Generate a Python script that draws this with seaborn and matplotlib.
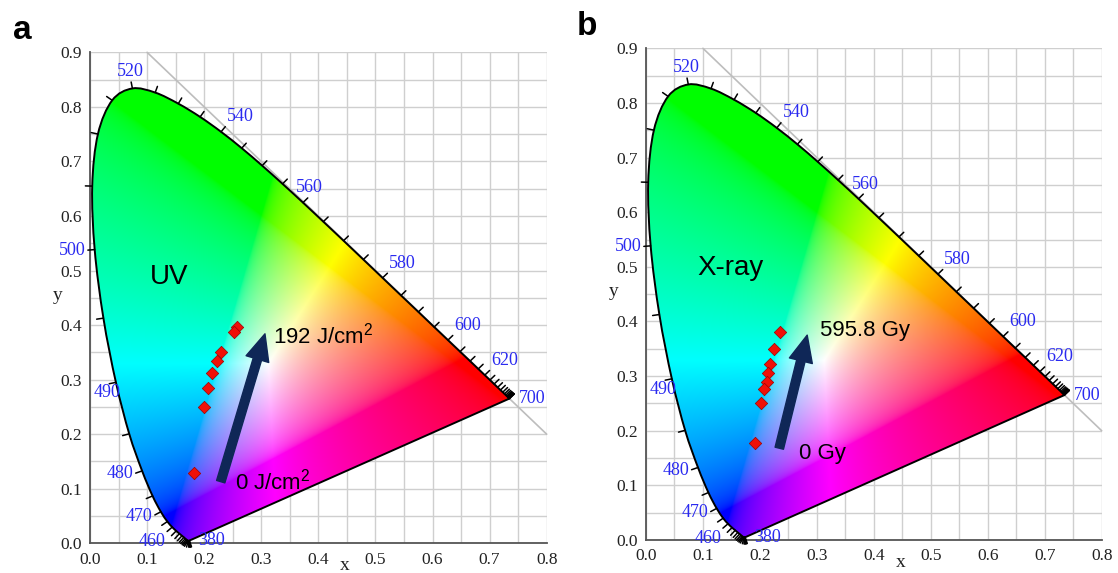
import matplotlib
matplotlib.use("Agg")
import matplotlib.pyplot as plt
from matplotlib.patches import PathPatch
from matplotlib.path import Path
import numpy as np
import pandas as pd
import seaborn as sns

# CIE 1931 2-degree spectral locus, 380-700 nm every 5 nm
wavelengths = list(range(380, 705, 5))
locus_x = [0.1741, 0.1740, 0.1738, 0.1736, 0.1733, 0.1730, 0.1726, 0.1721, 0.1714, 0.1703,
           0.1689, 0.1669, 0.1644, 0.1611, 0.1566, 0.1510, 0.1440, 0.1355, 0.1241, 0.1096,
           0.0913, 0.0687, 0.0454, 0.0235, 0.0082, 0.0039, 0.0139, 0.0389, 0.0743, 0.1142,
           0.1547, 0.1929, 0.2296, 0.2658, 0.3016, 0.3373, 0.3731, 0.4087, 0.4441, 0.4788,
           0.5125, 0.5448, 0.5752, 0.6029, 0.6270, 0.6482, 0.6658, 0.6801, 0.6915, 0.7006,
           0.7079, 0.7140, 0.7190, 0.7230, 0.7260, 0.7283, 0.7300, 0.7311, 0.7320, 0.7327,
           0.7334, 0.7340, 0.7344, 0.7346, 0.7347]
locus_y = [0.0050, 0.0050, 0.0049, 0.0049, 0.0048, 0.0048, 0.0048, 0.0048, 0.0051, 0.0058,
           0.0069, 0.0086, 0.0109, 0.0138, 0.0177, 0.0227, 0.0297, 0.0399, 0.0578, 0.0868,
           0.1327, 0.2007, 0.2950, 0.4127, 0.5384, 0.6548, 0.7502, 0.8120, 0.8338, 0.8262,
           0.8059, 0.7816, 0.7543, 0.7243, 0.6923, 0.6589, 0.6245, 0.5896, 0.5547, 0.5202,
           0.4866, 0.4544, 0.4242, 0.3965, 0.3725, 0.3514, 0.3340, 0.3197, 0.3083, 0.2993,
           0.2920, 0.2859, 0.2809, 0.2770, 0.2740, 0.2717, 0.2700, 0.2689, 0.2680, 0.2673,
           0.2666, 0.2660, 0.2656, 0.2654, 0.2653]
labelled_wl = [380, 460, 470, 480, 490, 500, 520, 540, 560, 580, 600, 620, 700]

# panel a: UV dose series
uv_x = [0.258, 0.253, 0.229, 0.222, 0.214, 0.207, 0.200, 0.182]
uv_y = [0.397, 0.387, 0.351, 0.335, 0.313, 0.285, 0.249, 0.129]
uv_arrow = [(0.229, 0.113), (0.3065, 0.384)]
uv_texts = ["UV", "0 J/cm$^{2}$", "192 J/cm$^{2}$"]
uv_text_xy = [(0.105, 0.489), (0.254, 0.113), (0.321, 0.380)]

# panel b: X-ray dose series
xr_x = [0.235, 0.225, 0.217, 0.215, 0.212, 0.207, 0.202, 0.191]
xr_y = [0.381, 0.349, 0.323, 0.305, 0.290, 0.276, 0.250, 0.177]
xr_arrow = [(0.234, 0.168), (0.283, 0.375)]
xr_texts = ["X-ray", "0 Gy", "595.8 Gy"]
xr_text_xy = [(0.0895, 0.497), (0.268, 0.159), (0.305, 0.384)]

SERIF = "Liberation Serif"
SANS = "Liberation Sans"
NAVY = "#0f2757"
WL_BLUE = "#2a2af0"


def chromaticity_image(nx=800, ny=900):
    xs = np.linspace(0, 0.8, nx)
    ys = np.linspace(0, 0.9, ny)
    xx, yy = np.meshgrid(xs, ys)
    yy = np.maximum(yy, 1e-4)
    xyz = np.stack([xx / yy, np.ones_like(xx), (1 - xx - yy) / yy], axis=-1)
    m = np.array([[3.2406, -1.5372, -0.4986],
                  [-0.9689, 1.8758, 0.0415],
                  [0.0557, -0.2040, 1.0570]])
    rgb = np.clip(xyz @ m.T, 0, None)
    rgb = rgb / np.maximum(rgb.max(axis=-1, keepdims=True), 1e-9)
    rgb = np.where(rgb <= 0.0031308, 12.92 * rgb, 1.055 * rgb ** (1 / 2.4) - 0.055)
    return np.clip(rgb, 0, 1)


def locus_path(lx, ly):
    # smooth curve through the locus points (Catmull-Rom as cubic Bezier), closed by the purple line
    pts = np.column_stack([lx, ly])
    ext = np.vstack([pts[0], pts, pts[-1]])
    verts = [pts[0]]
    codes = [Path.MOVETO]
    for i in range(len(pts) - 1):
        p0, p1, p2, p3 = ext[i], ext[i + 1], ext[i + 2], ext[i + 3]
        verts += [p1 + (p2 - p0) / 6, p2 - (p3 - p1) / 6, p2]
        codes += [Path.CURVE4] * 3
    verts += [pts[0], pts[0]]
    codes += [Path.LINETO, Path.CLOSEPOLY]
    return Path(np.array(verts), codes)


def draw_panel(ax, px, py, arrow, texts, text_xy, img):
    lx = np.array(locus_x)
    ly = np.array(locus_y)
    path = locus_path(lx, ly)

    clip = PathPatch(path, transform=ax.transData, facecolor="none", edgecolor="none")
    ax.add_patch(clip)
    im = ax.imshow(img, origin="lower", extent=(0, 0.8, 0, 0.9), aspect="auto",
                   interpolation="bilinear", zorder=2)
    im.set_clip_path(clip)
    ax.add_patch(PathPatch(path, facecolor="none", edgecolor="black", lw=1.4, zorder=3,
                           joinstyle="round"))

    # reference line x + y = 1
    ax.plot([0.1, 0.8], [0.9, 0.2], color="#bdbdbd", lw=1.2, zorder=1, clip_on=False)

    # wavelength ticks on the locus
    gx = np.gradient(lx)
    gy = np.gradient(ly)
    norm = np.hypot(gx, gy)
    nx_, ny_ = -gy / norm, gx / norm
    for i, wl in enumerate(wavelengths):
        ax.plot([lx[i], lx[i] + 0.012 * nx_[i]], [ly[i], ly[i] + 0.012 * ny_[i]],
                color="black", lw=1.1, zorder=3, clip_on=False)
        if wl not in labelled_wl:
            continue
        n0, n1 = nx_[i], ny_[i]
        if wl in (380, 700):
            n0, n1 = 1.0, 0.0
        ha = "left" if n0 > 0.5 else ("right" if n0 < -0.5 else "center")
        va = "bottom" if n1 > 0.5 else ("top" if n1 < -0.5 else "center")
        if wl == 490:
            ha, va = "center", "top"
        if wl == 560:
            ha, va = "center", "bottom"
        ax.text(lx[i] + 0.016 * n0, ly[i] + 0.016 * n1, str(wl), ha=ha, va=va,
                color=WL_BLUE, fontsize=13, family=SERIF, zorder=4)

    data = pd.DataFrame({"x": px, "y": py})
    sns.scatterplot(data=data, x="x", y="y", marker="D", s=40, color="#f01008",
                    edgecolor="#a00000", linewidth=0.5, ax=ax, zorder=5, legend=False)

    ax.annotate("", xy=arrow[1], xytext=arrow[0],
                arrowprops=dict(arrowstyle="simple,head_width=1.7,head_length=1.9,tail_width=0.62",
                                mutation_scale=10, color=NAVY, shrinkA=0, shrinkB=0), zorder=6)

    ax.text(*text_xy[0], texts[0], fontsize=20, family=SANS, color="black",
            ha="left", va="center", zorder=6)
    ax.text(*text_xy[1], texts[1], fontsize=16, family=SANS, color="black",
            ha="left", va="center", zorder=6)
    ax.text(*text_xy[2], texts[2], fontsize=16, family=SANS, color="black",
            ha="left", va="center", zorder=6)

    ax.set_xlim(0, 0.8)
    ax.set_ylim(0, 0.9)
    ax.set_xticks(np.arange(0, 0.81, 0.1))
    ax.set_yticks(np.arange(0, 0.91, 0.1))
    ax.set_xticks(np.arange(0, 0.81, 0.05), minor=True)
    ax.set_yticks(np.arange(0, 0.91, 0.05), minor=True)
    ax.set_xticklabels([f"{v:.1f}" for v in np.arange(0, 0.81, 0.1)])
    ax.set_yticklabels([f"{v:.1f}" for v in np.arange(0, 0.91, 0.1)])
    ax.grid(True, which="both", color="#cfcfcf", lw=1.0, zorder=0)
    ax.set_axisbelow(True)
    ax.tick_params(which="major", direction="out", length=4, width=1.0, color="#444444",
                   labelsize=12.5, labelcolor="#222222", pad=2)
    ax.tick_params(which="minor", length=0)
    for lab in ax.get_xticklabels() + ax.get_yticklabels():
        lab.set_family(SERIF)
    for side in ("top", "right"):
        ax.spines[side].set_visible(False)
    for side in ("left", "bottom"):
        ax.spines[side].set_color("#555555")
        ax.spines[side].set_linewidth(1.3)
    ax.set_xlabel("")
    ax.set_ylabel("")
    ax.text(0.558, -0.046, "x", transform=ax.transAxes, fontsize=14, family=SERIF,
            color="#222222", ha="center", va="center")
    ax.text(-0.071, 0.505, "y", transform=ax.transAxes, fontsize=14, family=SERIF,
            color="#222222", ha="center", va="center")


sns.set_theme(style="white")
plt.rcParams["font.family"] = [SANS, "DejaVu Sans"]
plt.rcParams["mathtext.fontset"] = "custom"
plt.rcParams["mathtext.rm"] = SANS
plt.rcParams["mathtext.default"] = "regular"

fig = plt.figure(figsize=(11.18, 5.73), dpi=100)
ax_a = fig.add_axes([0.0805, 0.0518, 0.4085, 0.8569])
ax_b = fig.add_axes([0.5778, 0.0576, 0.4076, 0.8581])

img = chromaticity_image()
draw_panel(ax_a, uv_x, uv_y, uv_arrow, uv_texts, uv_text_xy, img)
draw_panel(ax_b, xr_x, xr_y, xr_arrow, xr_texts, xr_text_xy, img)

fig.text(13 / 1118, 1 - 39 / 573, "a", fontsize=24, fontweight="bold", family=SANS,
         color="black", va="baseline")
fig.text(577 / 1118, 1 - 35 / 573, "b", fontsize=24, fontweight="bold", family=SANS,
         color="black", va="baseline")

fig.savefig("out.png", dpi=100)
